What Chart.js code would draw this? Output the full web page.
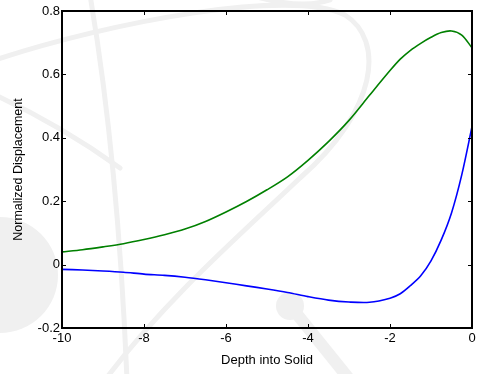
<!DOCTYPE html>
<html>
<head>
<meta charset="utf-8">
<script src="https://cdn.jsdelivr.net/npm/chart.js@4/dist/chart.umd.min.js"></script>
<style>
  html, body { margin: 0; padding: 0; background: #fff; }
  #wrap { width: 480px; height: 374px; }
</style>
</head>
<body>
<div id="wrap"><canvas id="displacement-chart"></canvas></div>
<script>
// DATA
const depth = [-10, -9.5, -9, -8.5, -8, -7.5, -7, -6.5, -6, -5.5, -5, -4.5, -4,
  -3.5, -3, -2.5, -2, -1.75, -1.5, -1.25, -1, -0.75, -0.5, -0.25, 0]

const upperCurve = [0.040, 0.047, 0.056, 0.066, 0.079, 0.094, 0.112, 0.136, 0.166,
  0.199, 0.236, 0.277, 0.329, 0.388, 0.455, 0.534, 0.612, 0.648, 0.676, 0.698,
  0.717, 0.732, 0.737, 0.724, 0.684]

const lowerCurve = [-0.015, -0.017, -0.020, -0.024, -0.030, -0.034, -0.040, -0.048,
  -0.057, -0.067, -0.077, -0.088, -0.101, -0.112, -0.118, -0.119, -0.106, -0.092,
  -0.066, -0.035, 0.012, 0.078, 0.163, 0.283, 0.435]

const xTicks = { min: -10, max: 0, step: 2 }
const yTicks = { min: -0.2, max: 0.8, step: 0.2 }

const toPoints = (values) => values.map((v, i) => ({ x: depth[i], y: v }))

const FONT = "'Liberation Sans', Arial, sans-serif"

// faint logo shapes behind the axes
const backdrop = {
  id: "backdrop",
  beforeDraw(chart) {
    const ctx = chart.ctx
    ctx.save()
    ctx.fillStyle = "#fff"
    ctx.fillRect(0, 0, chart.width, chart.height)
    ctx.strokeStyle = "#f0f0f0"
    ctx.fillStyle = "#f0f0f0"
    ctx.lineWidth = 5
    ctx.lineCap = "round"

    // big orbit
    ctx.beginPath()
    ctx.moveTo(-5, 60)
    ctx.bezierCurveTo(110, 22, 290, -12, 345, 15)
    ctx.bezierCurveTo(385, 40, 378, 110, 300, 178)
    ctx.bezierCurveTo(240, 235, 165, 300, 105, 380)
    ctx.stroke()

    // second orbit
    ctx.beginPath()
    ctx.moveTo(-5, 95)
    ctx.quadraticCurveTo(60, 125, 120, 168)
    ctx.stroke()

    // vertical stroke
    ctx.beginPath()
    ctx.moveTo(90, -5)
    ctx.quadraticCurveTo(118, 160, 127, 380)
    ctx.stroke()

    // top arc
    ctx.beginPath()
    ctx.moveTo(250, -5)
    ctx.quadraticCurveTo(300, 10, 330, 0)
    ctx.stroke()

    // round blobs
    ctx.beginPath()
    ctx.arc(0, 275, 58, 0, Math.PI * 2)
    ctx.fill()
    ctx.beginPath()
    ctx.arc(290, 306, 14, 0, Math.PI * 2)
    ctx.fill()
    ctx.lineWidth = 12
    ctx.beginPath()
    ctx.moveTo(292, 308)
    ctx.lineTo(350, 380)
    ctx.stroke()
    ctx.restore()
  },
}

// box around the plot with inward tick marks on all four sides
const frame = {
  id: "frame",
  afterDatasetsDraw(chart) {
    const { ctx, chartArea: a, scales } = chart
    const len = 4
    ctx.save()
    ctx.strokeStyle = "#000"
    ctx.lineWidth = 1
    ctx.beginPath()
    scales.x.ticks.forEach((t) => {
      const px = Math.round(scales.x.getPixelForValue(t.value)) + 0.5
      ctx.moveTo(px, a.bottom)
      ctx.lineTo(px, a.bottom - len)
      ctx.moveTo(px, a.top)
      ctx.lineTo(px, a.top + len)
    })
    scales.y.ticks.forEach((t) => {
      const py = Math.round(scales.y.getPixelForValue(t.value)) + 0.5
      ctx.moveTo(a.left, py)
      ctx.lineTo(a.left + len, py)
      ctx.moveTo(a.right, py)
      ctx.lineTo(a.right - len, py)
    })
    ctx.stroke()
    ctx.lineWidth = 2
    ctx.strokeRect(a.left, a.top, a.right - a.left, a.bottom - a.top)
    ctx.restore()
  },
}

const ctx = document.getElementById("displacement-chart").getContext("2d")

new Chart(ctx, {
  type: "line",
  data: {
    datasets: [
      {
        data: toPoints(upperCurve),
        borderColor: "#008000",
        borderWidth: 1.6,
        pointRadius: 0,
        tension: 0.3,
        fill: false,
      },
      {
        data: toPoints(lowerCurve),
        borderColor: "#0000ff",
        borderWidth: 1.6,
        pointRadius: 0,
        tension: 0.3,
        fill: false,
      },
    ],
  },
  options: {
    responsive: true,
    maintainAspectRatio: false,
    animation: false,
    layout: { padding: { left: 0, right: 8, top: 11, bottom: 0 } },
    plugins: {
      legend: { display: false },
      tooltip: { enabled: false },
    },
    scales: {
      x: {
        type: "linear",
        min: xTicks.min,
        max: xTicks.max,
        grid: { display: false, drawTicks: false },
        border: { display: false },
        ticks: {
          stepSize: xTicks.step,
          padding: 3,
          color: "#000",
          font: { family: FONT, size: 13 },
        },
        title: {
          display: true,
          text: "Depth into Solid",
          color: "#000",
          font: { family: FONT, size: 13 },
          padding: { top: 0, bottom: 6 },
        },
        afterFit: (scale) => {
          scale.height = 46
        },
      },
      y: {
        type: "linear",
        min: yTicks.min,
        max: yTicks.max,
        grid: { display: false, drawTicks: false },
        border: { display: false },
        ticks: {
          stepSize: yTicks.step,
          padding: 2,
          color: "#000",
          font: { family: FONT, size: 13 },
        },
        title: {
          display: true,
          text: "Normalized Displacement",
          color: "#000",
          font: { family: FONT, size: 12.5 },
          padding: { top: 11, bottom: 0 },
        },
        afterFit: (scale) => {
          scale.width = 62
        },
      },
    },
  },
  plugins: [backdrop, frame],
})
</script>
</body>
</html>
